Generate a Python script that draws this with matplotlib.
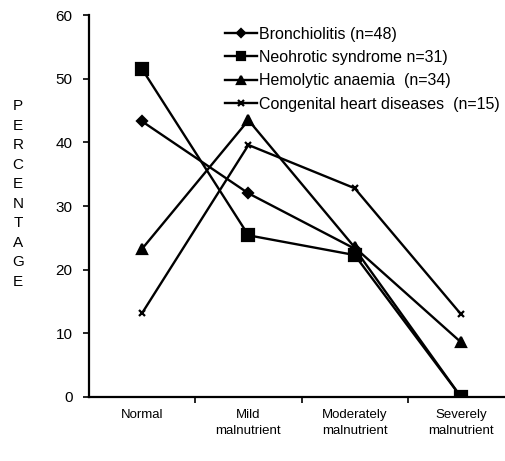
import matplotlib

matplotlib.use("Agg")

import matplotlib.pyplot as plt  # noqa: E402

plt.rcParams["font.family"] = ["Liberation Sans", "DejaVu Sans"]

categories = ["Normal", "Mild\nmalnutrient", "Moderately\nmalnutrient", "Severely\nmalnutrient"]
bronchiolitis = [43.3, 32.0, 23.3, 0.0]
nephrotic = [51.5, 25.4, 22.3, 0.0]
hemolytic = [23.3, 43.5, 23.5, 8.6]
congenital = [13.2, 39.6, 32.8, 13.0]

series = [
    ("Bronchiolitis (n=48)", bronchiolitis, "D", 5),
    ("Neohrotic syndrome n=31)", nephrotic, "s", 8),
    ("Hemolytic anaemia  (n=34)", hemolytic, "^", 7.5),
    ("Congenital heart diseases  (n=15)", congenital, "x", 5),
]

fig = plt.figure(figsize=(5.06, 4.61), dpi=100)
ax = fig.add_axes([0.176, 0.139, 0.84, 0.828])

x = list(range(len(categories)))
for label, values, marker, size in series:
    ax.plot(x, values, color="black", linewidth=1.7, marker=marker,
            markersize=size, markeredgewidth=1.6, label=label)

ax.set_xlim(-0.5, 3.5)
ax.set_ylim(0, 60)
ax.set_yticks(range(0, 61, 10))
ax.set_xticks(x)
ax.set_xticklabels(categories, fontsize=9.5, linespacing=1.45)
ax.set_xticks([0.5, 1.5, 2.5], minor=True)
ax.tick_params(axis="x", which="major", length=0, pad=9)
ax.tick_params(axis="x", which="minor", length=4, width=1.2)
ax.tick_params(axis="y", labelsize=11, length=4, width=1.2, pad=8)
for side in ("top", "right"):
    ax.spines[side].set_visible(False)
for side in ("left", "bottom"):
    ax.spines[side].set_linewidth(1.6)

ax.legend(loc="upper left", bbox_to_anchor=(0.445, 0.942), bbox_transform=fig.transFigure,
          frameon=False, fontsize=11.5, handlelength=2.0, handletextpad=0.1,
          labelspacing=0.52, borderaxespad=0, borderpad=0, markerscale=0.75)

fig.text(0.036, 0.579, "\n".join("PERCENTAGE"), ha="center", va="center",
         fontsize=11, linespacing=1.5)

fig.savefig("out.png", dpi=100)
